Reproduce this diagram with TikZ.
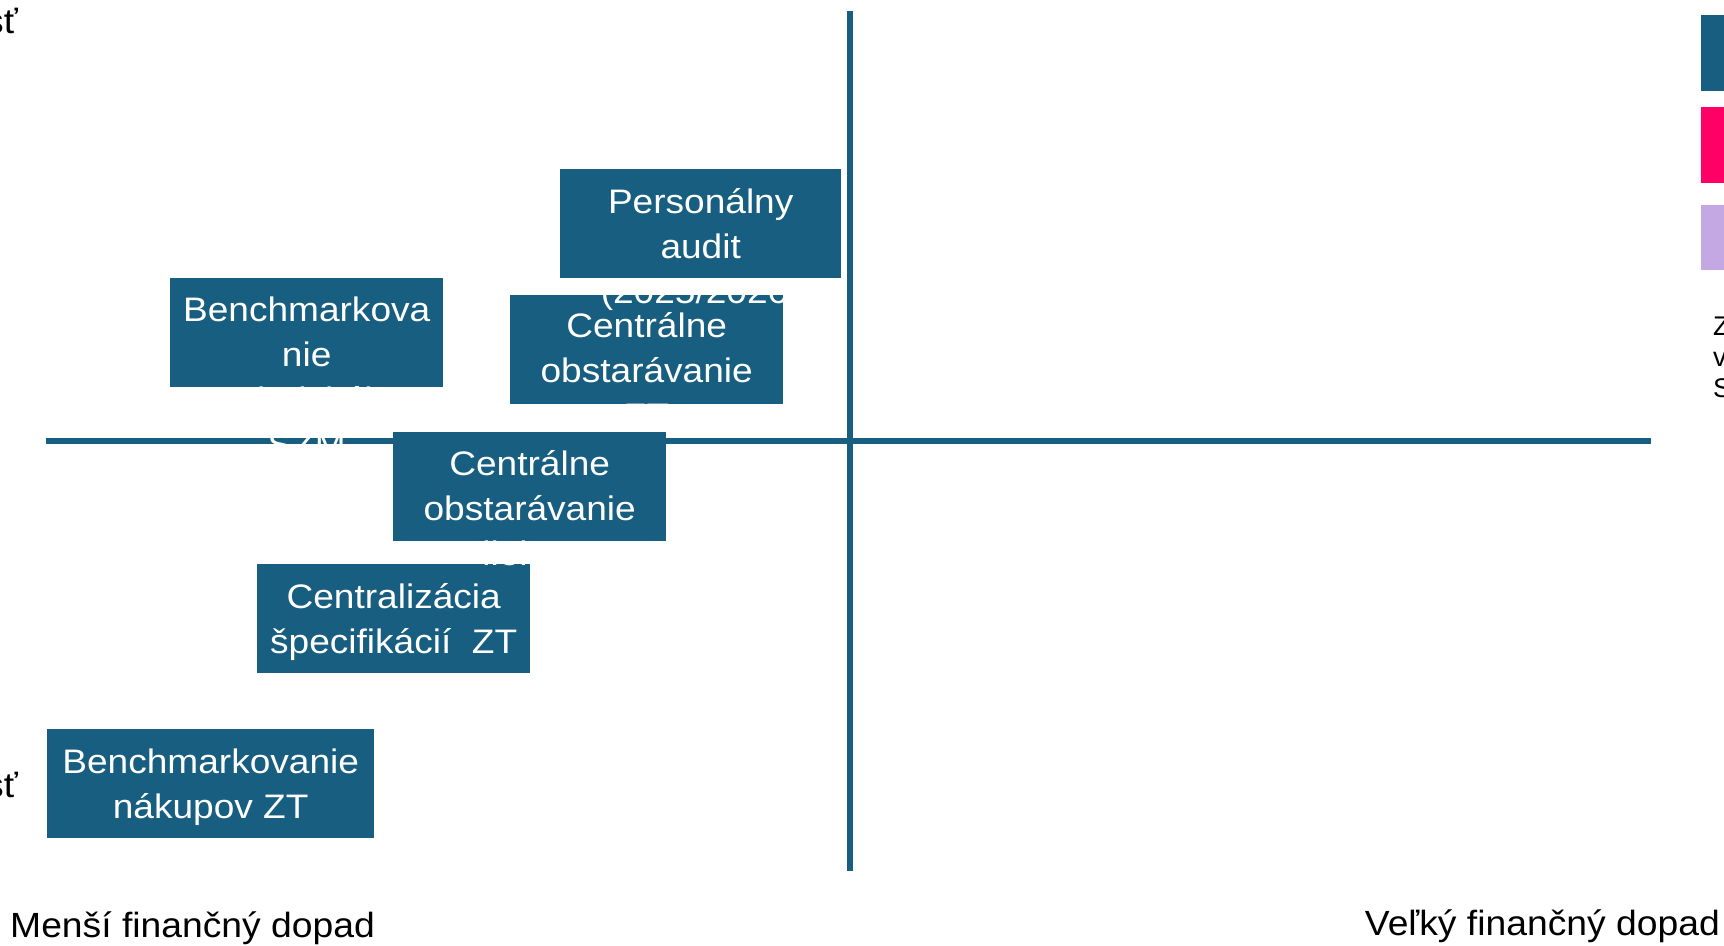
\documentclass[tikz,border=0pt]{standalone}
\usepackage{fontspec}
\setmainfont{Liberation Sans}
\newfontfamily\boxfont[FakeStretch=1.09]{Liberation Sans}
\newfontfamily\labfont[FakeStretch=1.065]{Liberation Sans}
\usetikzlibrary{calc}
\definecolor{qblue}{RGB}{23,94,128}
\definecolor{qpink}{RGB}{255,0,102}
\definecolor{qlav}{RGB}{196,168,228}
\begin{document}
\begin{tikzpicture}[x=1pt,y=-1pt,
  axis/.style={draw=qblue,line width=6pt},
  tbox/.style={fill=qblue,draw=none,inner sep=0pt,anchor=north west,minimum height=109pt},
  tline/.style={text=white,font=\boxfont\fontsize{34}{40}\selectfont,anchor=base,inner sep=0pt},
  lab/.style={font=\labfont\fontsize{35}{42}\selectfont,text=black,inner sep=0pt},
  legtxt/.style={font=\fontsize{27}{31}\selectfont,anchor=base west,inner sep=0pt},
  legbox/.style={inner sep=0pt,anchor=north west,minimum width=23pt,draw=none}]
\useasboundingbox (0,0) rectangle (1724,945);
\clip (0,0) rectangle (1724,945);
% axes
\coordinate (hl) at (46,441);
\coordinate (hr) at (1651,441);
\coordinate (vt) at (850,11);
\coordinate (vb) at (850,871);
\draw[axis] (hl) -- (hr);
\draw[axis] (vt) -- (vb);
% boxes
\node[tbox,minimum width=281pt] (pa) at (560,169) {};
\node[tbox,minimum width=273pt] (bt) at (170,278) {};
\node[tbox,minimum width=273pt] (coz) at (510,295) {};
\node[tbox,minimum width=273pt] (col) at (393,432) {};
\node[tbox,minimum width=273pt] (csz) at (257,564) {};
\node[tbox,minimum width=327pt] (bnz) at (47,729) {};
% box texts
\node[tline] (pa1) at ($(pa.north)+(0,44)$) {Personálny};
\node[tline] (pa2) at ($(pa.north)+(0,89)$) {audit};
\node[tline] (pa3) at ($(pa.north)+(0,134)$) {(2025/2026)};
\node[tline] (bt1) at ($(bt.north)+(0,43)$) {Benchmarkova};
\node[tline] (bt2) at ($(bt.north)+(0,88)$) {nie};
\node[tline] (bt3) at ($(bt.north)+(0,133)$) {technického};
\node[tline] (bt4) at ($(bt.north)+(0,178)$) {SZM};
\node[tline] (coz1) at ($(coz.north)+(0,42)$) {Centrálne};
\node[tline] (coz2) at ($(coz.north)+(0,87)$) {obstarávanie};
\node[tline] (coz3) at ($(coz.north)+(0,132)$) {ZT};
\node[tline] (col1) at ($(col.north)+(0,43)$) {Centrálne};
\node[tline] (col2) at ($(col.north)+(0,88)$) {obstarávanie};
\node[tline] (col3) at ($(col.north)+(0,133)$) {liekov};
\node[tline] (csz1) at ($(csz.north)+(0,44)$) {Centralizácia};
\node[tline] (csz2) at ($(csz.north)+(0,89)$) {špecifikácií\ \ ZT};
\node[tline] (bnz1) at ($(bnz.north)+(0,44)$) {Benchmarkovanie};
\node[tline] (bnz2) at ($(bnz.north)+(0,89)$) {nákupov ZT};
% legend
\node[legbox,fill=qblue,minimum height=76pt] (lg1) at (1701,15) {};
\node[legbox,fill=qpink,minimum height=76pt] (lg2) at (1701,107) {};
\node[legbox,fill=qlav,minimum height=65pt] (lg3) at (1701,205) {};
\node[legtxt] (lt1) at (1713,335) {Z};
\node[legtxt] (lt2) at (1713,366) {v};
\node[legtxt] (lt3) at (1713,397) {S};
% axis labels
\node[lab,anchor=base east] (s1) at (18,33) {sť};
\node[lab,anchor=base east] (s2) at (18,797) {sť};
\node[lab,anchor=base west] (lmin) at (10,937) {Menší finančný dopad};
\node[lab,anchor=base east] (lmax) at (1720,935) {Veľký finančný dopad};
\end{tikzpicture}
\end{document}
